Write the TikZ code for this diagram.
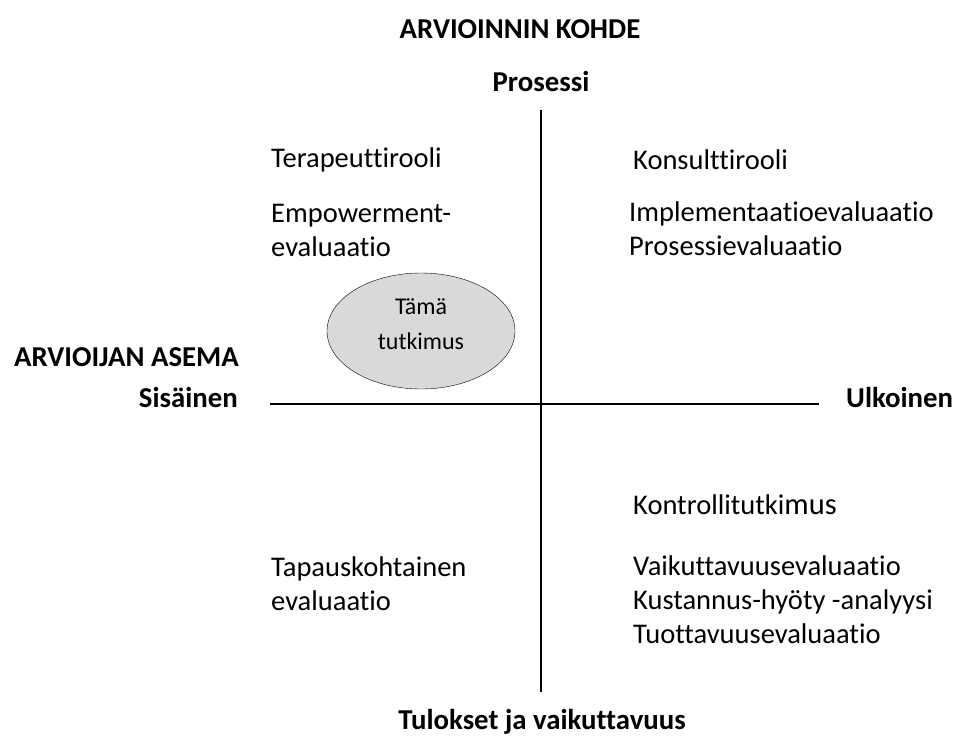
\documentclass[tikz,border=0pt]{standalone}
\usepackage{fontspec}
\setmainfont{Carlito}[Ligatures={NoCommon}]
\usepackage{tikz}
\usetikzlibrary{shapes.geometric}
\tikzstyle{label} = [anchor=west, align=left, inner sep=0pt, font=\fontsize{28.5}{34}\selectfont]
\tikzstyle{heading} = [inner sep=0pt, font=\fontsize{28.8}{34}\selectfont\bfseries]
\tikzstyle{axis} = [line width=2.5pt]

\begin{document}
\begin{tikzpicture}[x=1pt, y=-1pt]
        \useasboundingbox (0,0) rectangle (958,736);
        % axes
        \coordinate (top) at (541,110);
        \coordinate (bottom) at (541,692);
        \coordinate (left) at (270,404);
        \coordinate (right) at (819,404);
        \draw [axis] (top) -- (bottom);
        \draw [axis] (left) -- (right);

        % headings
        \node (kohde) [heading] at (520,29) {ARVIOINNIN KOHDE};
        \node (prosessi) [heading] at (541,82) {Prosessi};
        \node (tulokset) [heading] at (542,722) {Tulokset ja vaikuttavuus};
        \node (asema) [heading, anchor=east] at (239,357) {ARVIOIJAN ASEMA};
        \node (sisainen) [heading, anchor=east] at (238,397) {Sisäinen};
        \node (ulkoinen) [heading, anchor=west] at (846,397) {Ulkoinen};

        % quadrants
        \node (terapeutti) [label] at (271,160) {Terapeuttirooli};
        \node (empowerment) [label] at (271,230) {Empowerment-\\evaluaatio};
        \node (konsultti) [label] at (633,160) {Konsulttirooli};
        \node (implementaatio) [label] at (629,229) {Implementaatioevaluaatio\\Prosessievaluaatio};
        \node (kontrolli) [label] at (633,505) {Kontrollitutki{\fontsize{30.5}{34}\selectfont mus}};
        \node (tapaus) [label] at (271,584) {Tapauskohtainen\\evaluaatio};
        \node (vaikuttavuus) [label] at (633,600) {Vaikuttavuusevaluaatio\\Kustannus-hyöty -analyysi\\Tuottavuusevaluaatio};

        % this study
        \node (tama) [ellipse, draw, fill=gray!30, minimum width=188pt, minimum height=116pt] at (421,331) {};
        \node (tamatext) [align=center, font=\fontsize{24}{35}\selectfont] at ([yshift=7pt]tama.center) {Tämä\\tutkimus};
    \end{tikzpicture}
\end{document}
